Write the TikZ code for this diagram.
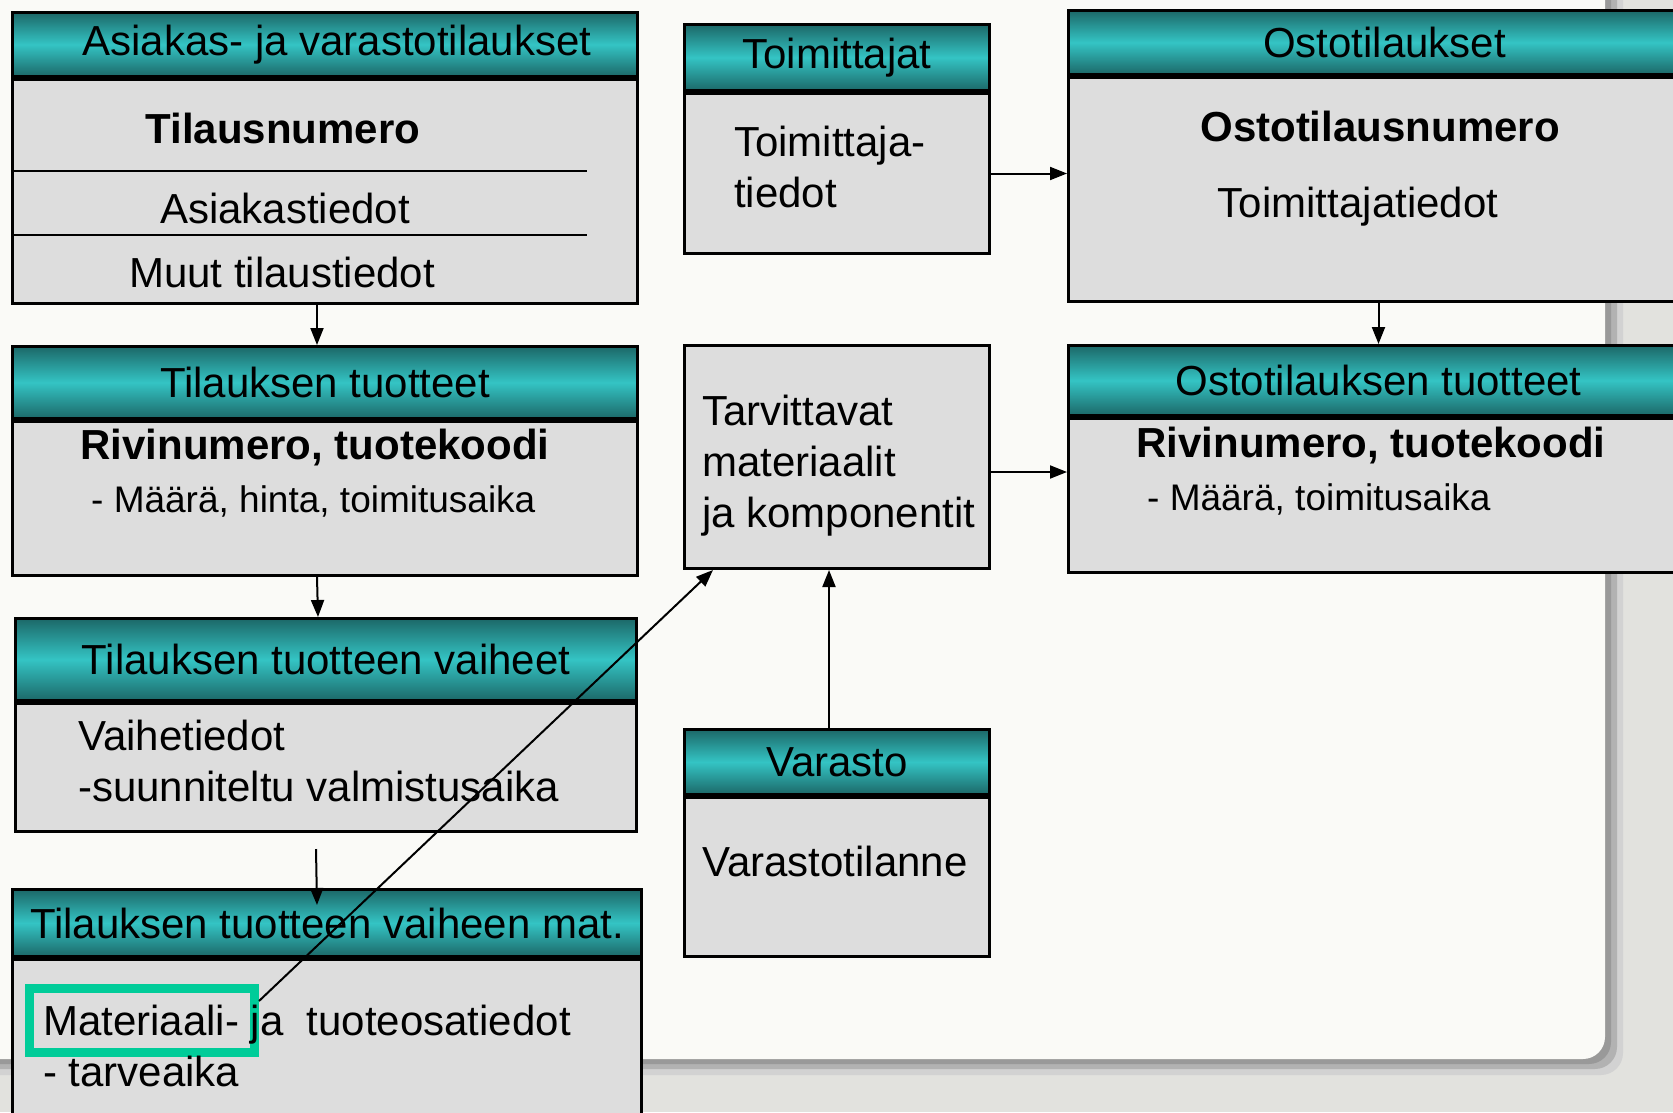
\documentclass[tikz,border=0pt]{standalone}
\usepackage{fontspec}
\setmainfont{Liberation Sans}
\usetikzlibrary{arrows.meta}
\definecolor{tealdark}{RGB}{28,104,104}
\definecolor{tealbright}{RGB}{52,196,196}
\definecolor{boxgray}{RGB}{221,221,221}
\definecolor{paper}{RGB}{250,250,247}
\definecolor{outside}{RGB}{226,226,222}
\definecolor{markgreen}{RGB}{0,204,153}

\begin{document}
\begin{tikzpicture}[x=1pt,y=-1pt,
    every node/.style={inner sep=0pt, font=\fontsize{42}{51}\selectfont},
    hdr/.style={draw, line width=3pt, anchor=north west, top color=tealdark, bottom color=tealdark, middle color=tealbright},
    bdy/.style={draw, line width=3pt, anchor=north west, fill=boxgray},
    bold/.style={font=\bfseries\fontsize{42}{51}\selectfont},
    small/.style={font=\fontsize{37}{44}\selectfont},
    >={Triangle[length=17pt,width=13pt]}]
    \useasboundingbox (0,0) rectangle (1673,1112);
    \clip (0,0) rectangle (1673,1112);
    \fill[outside] (0,0) rectangle (1673,1112);
    \fill[gray!35, rounded corners=22pt] (-40,-40) rectangle (1623,1075);
    \fill[gray!60, rounded corners=22pt] (-40,-40) rectangle (1617,1069);
    \fill[gray!80, rounded corners=22pt] (-40,-40) rectangle (1611,1064);
    \fill[paper, rounded corners=22pt] (-40,-40) rectangle (1605,1059);

    \draw (11,11) node[hdr, minimum width=625pt, minimum height=64pt] (asih) {\hspace*{24pt}Asiakas- ja varastotilaukset};
    \draw (asih.south west) node[bdy, minimum width=625pt, minimum height=224pt] (asi) {};
    \draw[line width=2pt] (11,171) -- (587,171);
    \draw[line width=2pt] (11,235) -- (587,235);
    \draw (283,128) node[bold] (tnum) {Tilausnumero};
    \draw (285,208) node (asti) {Asiakastiedot};
    \draw (282,272) node (muut) {Muut tilaustiedot};

    \draw (11,345) node[hdr, minimum width=625pt, minimum height=72pt] (tilh) {Tilauksen tuotteet};
    \draw (tilh.south west) node[bdy, minimum width=625pt, minimum height=154pt] (til) {};
    \draw (315,448) node[bold] (rnum) {Rivinumero, tuotekoodi};
    \draw (91,501) node[small, anchor=west] (mhta) {- Määrä, hinta, toimitusaika};

    \draw (14,617) node[hdr, minimum width=621pt, minimum height=82pt] (vaih) {Tilauksen tuotteen vaiheet};
    \draw (vaih.south west) node[bdy, minimum width=621pt, minimum height=128pt] (vai) {};
    \draw (78,761) node[anchor=west, align=left] (vtie) {Vaihetiedot\\-suunniteltu valmistusaika};

    \draw (11,888) node[hdr, minimum width=629pt, minimum height=67pt] (math) {Tilauksen tuotteen vaiheen mat.};
    \draw (math.south west) node[bdy, minimum width=629pt, minimum height=200pt] (mat) {};
    \draw (25,984) node[draw=markgreen, line width=9pt, anchor=north west, minimum width=225pt, minimum height=64pt] (grn) {};
    \draw (43,1046) node[anchor=west, align=left] (mtie) {Materiaali- ja \ tuoteosatiedot\\- tarveaika};

    \draw (683,23) node[hdr, minimum width=305pt, minimum height=66pt] (toih) {Toimittajat};
    \draw (toih.south west) node[bdy, minimum width=305pt, minimum height=160pt] (toi) {};
    \draw (734,167) node[anchor=west, align=left] (ttie) {Toimittaja-\\tiedot};

    \draw (1067,9) node[hdr, minimum width=620pt, minimum height=64pt] (osth) {\hspace*{12pt}Ostotilaukset};
    \draw (osth.south west) node[bdy, minimum width=620pt, minimum height=224pt] (ost) {};
    \draw (1380,126) node[bold] (onum) {Ostotilausnumero};
    \draw (1358,207) node (otie) {Toimittajatiedot};

    \draw (1067,344) node[hdr, minimum width=620pt, minimum height=70pt] (otth) {Ostotilauksen tuotteet};
    \draw (otth.south west) node[bdy, minimum width=620pt, minimum height=154pt] (ott) {};
    \draw (1371,446) node[bold] (rnum2) {Rivinumero, tuotekoodi};
    \draw (1147,499) node[small, anchor=west] (mtoi) {- Määrä, toimitusaika};

    \draw (683,344) node[bdy, minimum width=305pt, minimum height=223pt] (tar) {};
    \draw (702,466) node[anchor=west, align=left] (tkom) {Tarvittavat\\materiaalit\\ja komponentit};

    \draw (683,728) node[hdr, minimum width=305pt, minimum height=65pt] (varh) {Varasto};
    \draw (varh.south west) node[bdy, minimum width=305pt, minimum height=159pt] (var) {};
    \draw (702,861) node[anchor=west] (vtil) {Varastotilanne};

    \coordinate (hg) at ([yshift=-15pt]tar.east);
    \draw [->, line width=2pt] ([xshift=-8pt]asi.south) -- ([xshift=-8pt]tilh.north);
    \draw [->, line width=2pt] ([xshift=-8pt]til.south) -- ([xshift=-8pt]vaih.north);
    \draw [->, line width=2pt] ([xshift=-10pt,yshift=-16pt]vai.south) -- ([xshift=-10pt,yshift=-17pt]math.north);
    \draw [->, line width=2pt] (toi.east) -- (toi.east -| ost.west);
    \draw [->, line width=2pt] (ost.south) -- (otth.north);
    \draw [->, line width=2pt] (hg) -- (hg -| ott.west);
    \draw [->, line width=2pt] ([xshift=-8pt]varh.north) -- ([xshift=-8pt]tar.south);
    \draw [->, line width=2pt] ([yshift=-17pt]grn.north east) -- ([xshift=30pt]tar.south west);
\end{tikzpicture}
\end{document}
